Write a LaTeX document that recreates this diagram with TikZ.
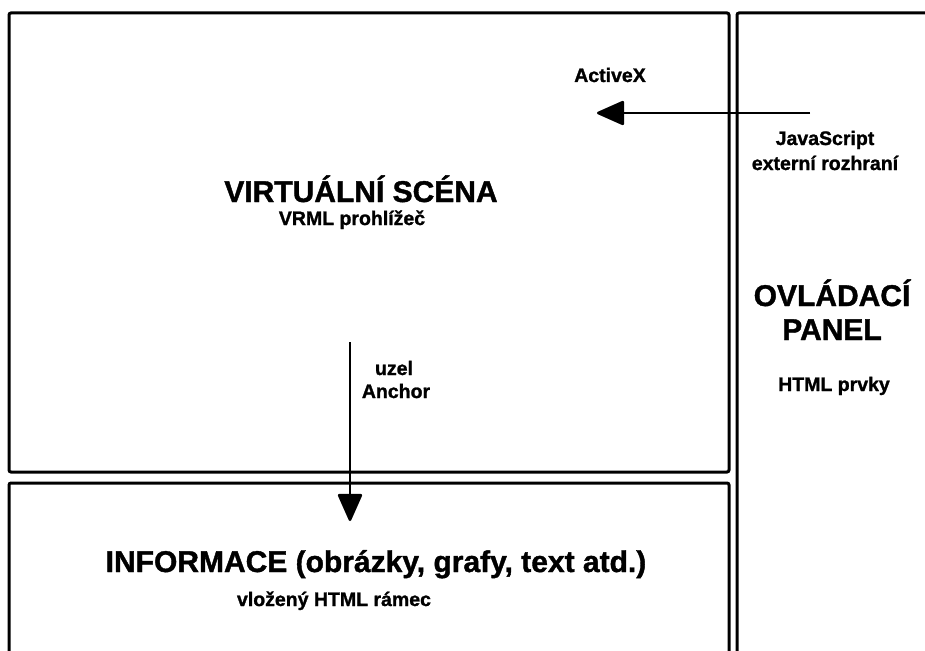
\documentclass[tikz,border=0pt]{standalone}
\usepackage{fontspec}
\setmainfont{Liberation Sans}[BoldFeatures={FakeBold=1.3}]
\usetikzlibrary{arrows.meta}

\begin{document}
\begin{tikzpicture}[
        x=1pt, y=-1pt,
        frame/.style={line width=3pt, rounded corners=2pt},
        heading/.style={font=\fontsize{30}{34}\selectfont\bfseries, anchor=base, inner sep=0pt},
        note/.style={font=\fontsize{19.5}{22}\selectfont\bfseries, anchor=base, inner sep=0pt},
        link/.style={line width=2.6pt, -{Triangle[length=29pt, width=25pt, round]}},
    ]

    \useasboundingbox (0, 0) rectangle (925, 650);
    \clip (0, 0) rectangle (925, 650);

    % frames
    \draw[frame] (9, 13) rectangle (729, 472);
    \draw[frame] (9, 483) rectangle (729, 670);
    \draw[frame] (737, 13) rectangle (945, 670);

    % virtual scene
    \node[heading] (scene) at (361, 202) {VIRTUÁLNÍ SCÉNA};
    \node[note] (viewer) at (352, 225) {VRML prohlížeč};

    % control panel
    \node[heading] (panel) at (832, 306) {OVLÁDACÍ};
    \node[heading] (panel2) at (832, 340) {PANEL};
    \node[note] (elements) at (834, 391) {HTML prvky};

    % information frame
    \node[heading] (info) at (376, 572) {INFORMACE (obrázky, grafy, text atd.)};
    \node[note] (htmlframe) at (334, 606) {vložený HTML rámec};

    % labels
    \node[note] (activex) at (610, 82) {ActiveX};
    \node[note] (js) at (825, 145) {JavaScript};
    \node[note] (js2) at (825, 170) {externí rozhraní};
    \node[note] (anchor) at (394, 375) {uzel};
    \node[note] (anchor2) at (396, 398) {Anchor};

    % connectors
    \coordinate (jsend) at (810, 113);
    \coordinate (axend) at (597, 113);
    \draw[link] (jsend) -- (axend);

    \coordinate (anchorstart) at (350, 342);
    \coordinate (infoend) at (350, 521);
    \draw[link] (anchorstart) -- (infoend);
\end{tikzpicture}
\end{document}
